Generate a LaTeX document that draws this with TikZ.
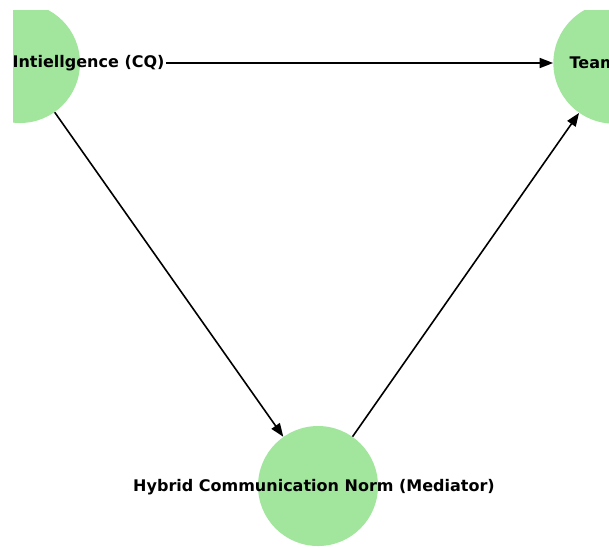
\documentclass[tikz,border=0pt]{standalone}
\usepackage{fontspec}
\setmainfont{DejaVu Sans}
\usetikzlibrary{arrows.meta}
\definecolor{nodegreen}{RGB}{162,230,158}
\tikzstyle{concept}=[circle,fill=nodegreen,minimum size=90pt,inner sep=0pt]
\tikzstyle{caption}=[font=\fontsize{12}{14}\selectfont\bfseries,inner sep=1pt,text=black]
\tikzstyle{link}=[-{Triangle[length=10pt,width=7.5pt]},line width=1.2pt]
\begin{document}
\begin{tikzpicture}[x=0.75pt,y=-0.75pt]
\useasboundingbox (0,0) rectangle (609,547);
\clip (13,10) rectangle (609,547);
\node[concept] at (20, 63) (cq) {};
\node[concept,minimum size=91pt] at (614, 63) (team) {};
\node[concept] at (318, 486) (hcn) {};
\node[caption,anchor=west] at (11, 63) (cqtext) {Intiellgence (CQ)};
\node[caption,anchor=west] at (568, 63) (teamtext) {Team};
\node[caption] at (314, 487) (hcntext) {Hybrid Communication Norm (Mediator)};
\draw[link] (cqtext) -- (team);
\draw[link] (cq) -- (hcn);
\draw[link] (hcn) -- (team);
\end{tikzpicture}
\end{document}
